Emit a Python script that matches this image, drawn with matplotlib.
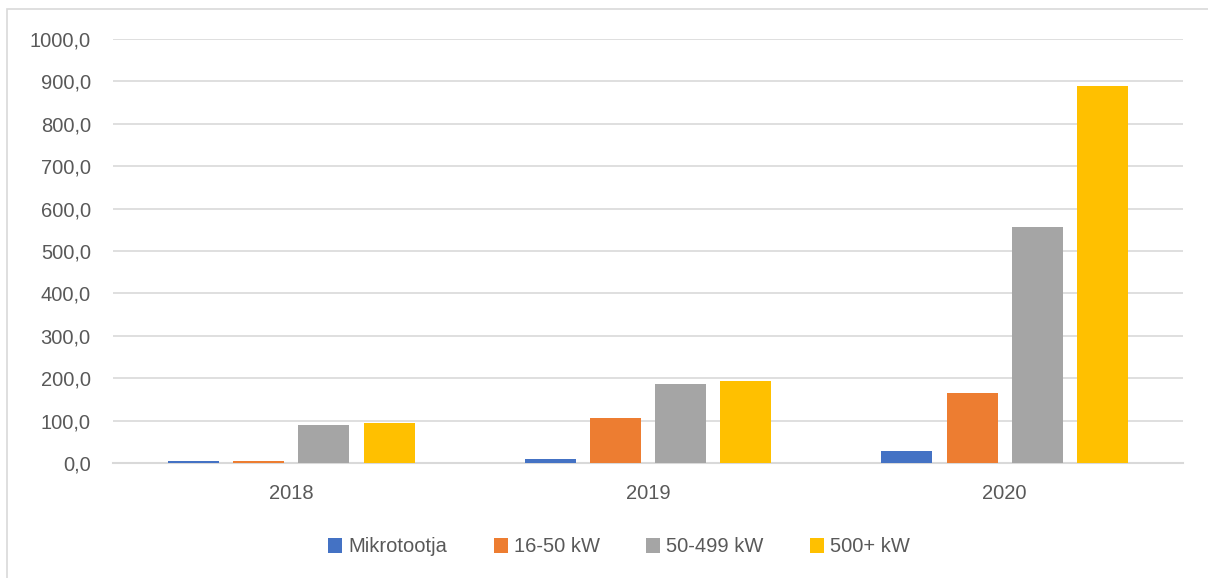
import matplotlib.pyplot as plt
import numpy as np
from matplotlib.patches import Rectangle
from matplotlib.ticker import FuncFormatter

years = ['2018', '2019', '2020']
series = ['Mikrotootja', '16-50 kW', '50-499 kW', '500+ kW']
mikro = [4.7, 8.5, 28.3]
kw16_50 = [5.5, 107, 165]
kw50_499 = [89.6, 186, 557.7]
kw500 = [95, 193, 890]
colors = ['#4472c4', '#ed7d31', '#a5a5a5', '#ffc000']

plt.rcParams['font.family'] = ['Liberation Sans', 'DejaVu Sans']
txt = '#595959'
grid = '#d9d9d9'

fig = plt.figure(figsize=(12.08, 5.78), dpi=100)
ax = fig.add_axes([113/1208, 1-463/578, (1183-113)/1208, (463-39)/578])

# outer chart border (only left and top visible in the crop)
fig.patches.append(Rectangle((7/1208, -0.1), 1.2, 1-9/578+0.1, transform=fig.transFigure,
                             fill=False, edgecolor=grid, linewidth=1.2))

x = np.arange(len(years))
w = 0.143
step = 0.183
vals = [mikro, kw16_50, kw50_499, kw500]
for i, (name, v) in enumerate(zip(series, vals)):
    ax.bar(x + (i - 1.5) * step, v, w, color=colors[i], label=name, zorder=3)

ax.set_xlim(-0.5, 2.5)
ax.set_ylim(0, 1000)
ax.set_yticks(np.arange(0, 1001, 100))
ax.yaxis.set_major_formatter(FuncFormatter(lambda v, p: ('%.1f' % v).replace('.', ',')))
ax.set_xticks(x)
ax.set_xticklabels(years)
ax.grid(axis='y', color=grid, linewidth=1.2, zorder=0)
for s in ['top', 'right', 'left']:
    ax.spines[s].set_visible(False)
ax.spines['bottom'].set_color(grid)
ax.spines['bottom'].set_linewidth(1.5)
ax.tick_params(axis='both', length=0, colors=txt, labelsize=14.5)
ax.tick_params(axis='y', pad=16)
ax.tick_params(axis='x', pad=15)

fig.legend(*ax.get_legend_handles_labels(), loc='center', bbox_to_anchor=(619/1208, 1-547/578),
           ncol=4, frameon=False, fontsize=14.5, labelcolor=txt,
           handlelength=0.7, handleheight=0.7, handletextpad=0.3, columnspacing=2.3)

fig.savefig('out.png', dpi=100)
